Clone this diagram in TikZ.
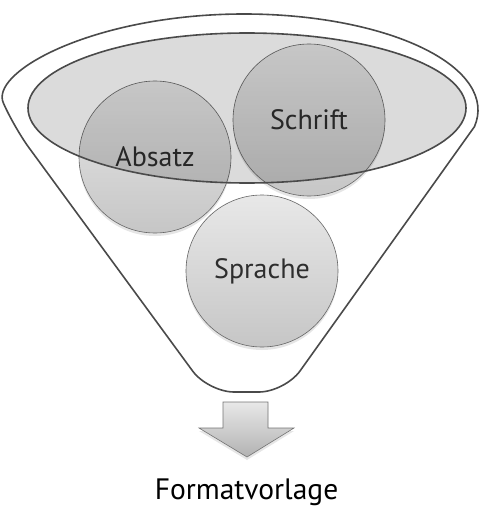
\documentclass[tikz,border=0pt]{standalone}
\usepackage{fontspec}
\setmainfont{PT Sans}
\usepackage{tikz}
\usetikzlibrary{shadows}
\definecolor{rim}{HTML}{4A4A4A}
\definecolor{balltop}{HTML}{E8E8E8}
\definecolor{ballbot}{HTML}{C6C6C6}
\tikzstyle{funnel}=[draw=rim, line width=1.6pt, fill=white]
\tikzstyle{ball}=[circle, minimum size=152pt, inner sep=0pt, draw=gray!80!black, line width=0.6pt, top color=balltop, bottom color=ballbot, drop shadow={shadow xshift=0pt, shadow yshift=-3pt, opacity=0.2}, font=\fontsize{28}{32}\selectfont, text=black!82]
\tikzstyle{pipe}=[draw=gray!90!black, line width=0.6pt, top color=balltop, bottom color=ballbot!90!black, drop shadow={shadow xshift=0pt, shadow yshift=-3pt, opacity=0.2}]

\begin{document}
\begin{tikzpicture}[x=1pt, y=-1pt]
\useasboundingbox (0,0) rectangle (480,508);

% Trichter
\draw[funnel] (244,110) ++(170:234 and 96)
  arc[start angle=170, end angle=370, x radius=234, y radius=96]
  [rounded corners=26pt] -- (285,392) -- (208,392) -- cycle;

\node[ball] (absatz) at (155,157) {Absatz};
\node[ball] (schrift) at (309,120) {Schrift};
\node[ball] (sprache) at (262,271) {Sprache};

% Rand oben
\fill[black, opacity=0.14] (247,108) ellipse [x radius=219, y radius=75];
\draw[rim, line width=1.6pt] (247,108) ellipse [x radius=219, y radius=75];

% Pfeil
\draw[pipe] (223,402) -- (268,402) -- (268,428) -- (294,428) -- (247,457)
  -- (199,428) -- (223,428) -- cycle;
\node[font=\fontsize{29.5}{34}\selectfont, anchor=base] (vorlage) at (246.5,499) {Formatvorlage};

\end{tikzpicture}
\end{document}
